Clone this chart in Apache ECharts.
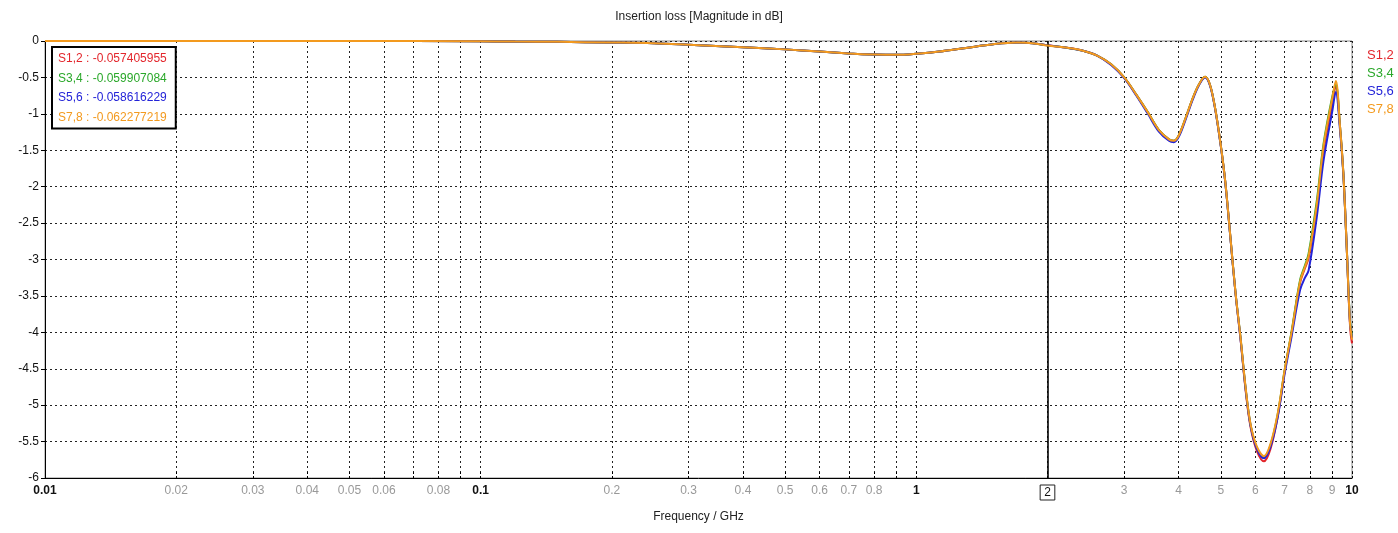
<!DOCTYPE html>
<html>
<head>
<meta charset="utf-8">
<script src="https://cdn.jsdelivr.net/npm/echarts@6/dist/echarts.min.js"></script>
<style>html,body{margin:0;padding:0;background:#fff}#c{width:1398px;height:533px}</style>
</head>
<body>
<div id="c"></div>
<script>
// ---- data ----
const freq = [0.01,0.02,0.05,0.1,0.12,0.15,0.2,0.25,0.3,0.4,0.5,0.6,0.7,0.8,0.9,1.0,1.13,1.3,1.5,1.7,1.85,2.0,2.2,2.4,2.6,2.8,3.0,3.2,3.4,3.6,3.8,3.9,4.0,4.15,4.3,4.45,4.6,4.72,4.85,5.0,5.12,5.26,5.4,5.55,5.7,5.85,6.05,6.28,6.5,6.75,7.0,7.27,7.6,7.8,7.95,8.3,8.6,9.0,9.18,9.38,9.55,9.72,9.89,10.0];
const s12 = [0,0,0,-0.003,-0.008,-0.012,-0.02,-0.03,-0.05,-0.085,-0.115,-0.145,-0.17,-0.185,-0.19,-0.175,-0.145,-0.095,-0.045,-0.022,-0.03,-0.057,-0.09,-0.13,-0.2,-0.32,-0.5,-0.74,-0.98,-1.22,-1.35,-1.37,-1.3,-1.06,-0.8,-0.6,-0.49,-0.6,-0.92,-1.44,-1.94,-2.7,-3.45,-4.1,-4.8,-5.3,-5.63,-5.77,-5.6,-5.16,-4.55,-4.0,-3.32,-3.12,-2.98,-2.3,-1.52,-0.88,-0.62,-1.15,-1.8,-2.8,-3.88,-4.15];
const s34 = [0,0,0,-0.003,-0.008,-0.012,-0.02,-0.03,-0.05,-0.085,-0.115,-0.145,-0.17,-0.185,-0.19,-0.175,-0.145,-0.095,-0.045,-0.022,-0.03,-0.06,-0.09,-0.13,-0.2,-0.32,-0.5,-0.74,-0.98,-1.22,-1.35,-1.37,-1.3,-1.06,-0.8,-0.6,-0.49,-0.6,-0.92,-1.44,-1.94,-2.7,-3.44,-4.08,-4.77,-5.27,-5.59,-5.72,-5.55,-5.13,-4.53,-3.98,-3.28,-3.08,-2.92,-2.2,-1.42,-0.78,-0.6,-1.15,-1.8,-2.8,-3.82,-4.05];
const s56 = [0,0,0,-0.003,-0.008,-0.012,-0.02,-0.03,-0.05,-0.085,-0.115,-0.145,-0.17,-0.185,-0.19,-0.175,-0.145,-0.095,-0.045,-0.022,-0.03,-0.059,-0.09,-0.13,-0.2,-0.33,-0.51,-0.75,-1.0,-1.24,-1.37,-1.39,-1.32,-1.08,-0.82,-0.61,-0.5,-0.61,-0.93,-1.45,-1.95,-2.71,-3.45,-4.1,-4.78,-5.28,-5.6,-5.73,-5.57,-5.17,-4.58,-4.05,-3.42,-3.25,-3.15,-2.42,-1.65,-0.98,-0.7,-1.2,-1.82,-2.8,-3.85,-4.08];
const s78 = [0,0,0,-0.003,-0.008,-0.012,-0.02,-0.03,-0.05,-0.085,-0.115,-0.145,-0.17,-0.185,-0.19,-0.175,-0.145,-0.095,-0.045,-0.022,-0.03,-0.062,-0.09,-0.13,-0.2,-0.32,-0.5,-0.74,-0.98,-1.22,-1.35,-1.37,-1.3,-1.06,-0.8,-0.6,-0.49,-0.6,-0.92,-1.44,-1.94,-2.7,-3.44,-4.08,-4.76,-5.26,-5.57,-5.7,-5.53,-5.12,-4.53,-3.99,-3.3,-3.1,-2.95,-2.25,-1.45,-0.8,-0.55,-1.15,-1.8,-2.8,-3.85,-4.1];
const seriesNames = ['S1,2','S3,4','S5,6','S7,8'];
const seriesColors = ['#e3262c','#2aa82a','#2323d8','#f39a1e'];
const markerValues = ['-0.057405955','-0.059907084','-0.058616229','-0.062277219'];
const markerFreq = 2;
const xTickValues = [0.01,0.02,0.03,0.04,0.05,0.06,0.07,0.08,0.09,0.1,0.2,0.3,0.4,0.5,0.6,0.7,0.8,0.9,1,2,3,4,5,6,7,8,9,10];
const xLabelValues = [0.01,0.02,0.03,0.04,0.05,0.06,0.08,0.1,0.2,0.3,0.4,0.5,0.6,0.7,0.8,1,2,3,4,5,6,7,8,9,10];
const xMajorLabels = [0.01,0.1,1,10];
const titleText = 'Insertion loss [Magnitude in dB]';
const xName = 'Frequency / GHz';

const FONT = 'Liberation Sans';
const allSeries = [s12, s34, s56, s78];

const chart = echarts.init(document.getElementById('c'), null, {renderer: 'canvas'});
const series = allSeries.map((arr, i) => ({
  name: seriesNames[i],
  type: 'line',
  data: freq.map((f, j) => [f, arr[j]]),
  smooth: 0.35,
  showSymbol: false,
  symbol: 'none',
  lineStyle: {width: 2, color: seriesColors[i]},
  itemStyle: {color: seriesColors[i]},
  z: 2 + i,
  markLine: i === 0 ? {
    silent: true, symbol: ['none','none'], label: {show: false},
    lineStyle: {color: '#000', width: 1.6, type: 'solid'},
    data: [{xAxis: markerFreq}]
  } : undefined
}));

function isMajor(v){ return xMajorLabels.some(m => Math.abs(m - v) < 1e-9); }

chart.setOption({
  animation: false,
  title: {text: titleText, left: 'center', top: 6, textStyle: {fontFamily: FONT, fontSize: 12, fontWeight: 'normal', color: '#222'}},
  grid: {left: 45, right: 46, top: 41, bottom: 55, show: true, borderColor: '#8a8a8a', borderWidth: 1, containLabel: false},
  legend: [
    {
      orient: 'vertical', left: 1362, top: 48, icon: 'none', itemWidth: 0, itemHeight: 14, itemGap: 4.8,
      padding: 0, selectedMode: false,
      data: seriesNames.map((n, i) => ({name: n, textStyle: {color: seriesColors[i]}})),
      textStyle: {fontFamily: FONT, fontSize: 13}
    },
    {
      orient: 'vertical', left: 52, top: 47, icon: 'none', itemWidth: 0, itemHeight: 14, itemGap: 6.5,
      selectedMode: false,
      backgroundColor: '#fff', borderColor: '#000', borderWidth: 2, padding: [5, 9, 5, 1],
      formatter: name => name + ' : ' + markerValues[seriesNames.indexOf(name)],
      data: seriesNames.map((n, i) => ({name: n, textStyle: {color: seriesColors[i]}})),
      textStyle: {fontFamily: FONT, fontSize: 12}
    }
  ],
  xAxis: {
    type: 'log', logBase: 10, min: 0.01, max: 10,
    name: xName, nameLocation: 'middle', nameGap: 33,
    nameTextStyle: {fontFamily: FONT, fontSize: 12, color: '#222'},
    axisLine: {show: true, onZero: false, lineStyle: {color: '#000', width: 1}},
    axisTick: {show: true, inside: true, length: 6, customValues: xTickValues, lineStyle: {color: '#000', type: [2,2]}},
    splitLine: {show: true, lineStyle: {color: '#222', width: 1, type: [2,3]}},
    minorTick: {show: false}, minorSplitLine: {show: false},
    axisLabel: {
      customValues: xLabelValues, margin: 7, fontFamily: FONT, fontSize: 12,
      formatter: v => {
        if (Math.abs(v - markerFreq) < 1e-9) return '{box|' + v + '}';
        if (isMajor(v)) return '{b|' + v + '}';
        return '{g|' + v + '}';
      },
      rich: {
        b: {fontFamily: FONT, fontSize: 12, fontWeight: 'bold', color: '#111'},
        g: {fontFamily: FONT, fontSize: 12, color: '#999'},
        box: {fontFamily: FONT, fontSize: 12, color: '#111', borderColor: '#222', borderWidth: 1, padding: [2, 4, 1, 4]}
      }
    }
  },
  yAxis: {
    type: 'value', min: -6, max: 0, interval: 0.5,
    axisLine: {show: true, lineStyle: {color: '#000'}},
    axisTick: {show: true, length: 4, lineStyle: {color: '#000'}},
    splitLine: {show: true, lineStyle: {color: '#222', width: 1, type: [2,3]}},
    axisLabel: {fontFamily: FONT, fontSize: 12, color: '#111', margin: 6}
  },
  series: series
});
</script>
</body>
</html>
